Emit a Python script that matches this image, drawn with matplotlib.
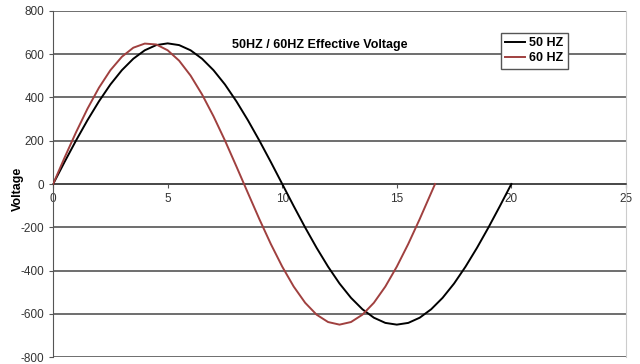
import matplotlib.pyplot as plt

plt.rcParams['font.family'] = ['Liberation Sans', 'DejaVu Sans']
plt.rcParams['axes.unicode_minus'] = False

# time (ms) and voltage, 0.5 ms steps
t50 = [0, 0.5, 1, 1.5, 2, 2.5, 3, 3.5, 4, 4.5, 5, 5.5, 6, 6.5, 7, 7.5, 8, 8.5, 9, 9.5, 10,
       10.5, 11, 11.5, 12, 12.5, 13, 13.5, 14, 14.5, 15, 15.5, 16, 16.5, 17, 17.5, 18, 18.5,
       19, 19.5, 20]
v50 = [0, 102, 201, 295, 382, 460, 526, 579, 618, 642, 650, 642, 618, 579, 526, 460, 382, 295,
       201, 102, 0, -102, -201, -295, -382, -460, -526, -579, -618, -642, -650, -642, -618,
       -579, -526, -460, -382, -295, -201, -102, 0]

t60 = [0, 0.5, 1, 1.5, 2, 2.5, 3, 3.5, 4, 4.5, 5, 5.5, 6, 6.5, 7, 7.5, 8, 8.5, 9, 9.5, 10,
       10.5, 11, 11.5, 12, 12.5, 13, 13.5, 14, 14.5, 15, 15.5, 16, 16.5, 16.67]
v60 = [0, 122, 239, 348, 445, 526, 588, 630, 649, 645, 618, 570, 501, 414, 313, 201, 81, -41,
       -162, -277, -382, -474, -549, -604, -638, -650, -638, -604, -549, -474, -382, -277,
       -162, -41, 0]

fig = plt.figure(figsize=(6.4, 3.64), dpi=100)
ax = fig.add_axes([0.083, 0.019, 0.895, 0.951])

ax.plot(t50, v50, color='black', lw=1.4, label='50 HZ', zorder=3)
ax.plot(t60, v60, color='#a0403f', lw=1.4, label='60 HZ', zorder=3)

ax.set_xlim(0, 25)
ax.set_ylim(-800, 800)
ax.set_xticks([0, 5, 10, 15, 20, 25])
ax.set_yticks(range(-800, 801, 200))
ax.yaxis.grid(True, color='#555555', lw=1.2)
ax.set_axisbelow(True)

ax.spines['top'].set_visible(False)
ax.spines['right'].set_color('#cccccc')
ax.spines['left'].set_color('#555555')
ax.spines['bottom'].set_position(('data', 0))
ax.spines['bottom'].set_color('#444444')
ax.spines['bottom'].set_linewidth(1.2)
ax.tick_params(axis='both', labelsize=8.5, labelcolor='#333333', color='#555555',
               length=3, direction='out')

fig.text(0.028, 0.48, 'Voltage', rotation=90, ha='center', va='center',
         fontsize=9, fontweight='bold')
ax.text(11.65, 643, '50HZ / 60HZ Effective Voltage', ha='center', va='center',
        fontsize=9, fontweight='bold')

leg = ax.legend(loc='upper left', bbox_to_anchor=(0.771, 0.955),
                prop={'weight': 'bold', 'size': 9}, handlelength=1.6, handletextpad=0.3,
                borderpad=0.35, labelspacing=0.25, fancybox=False, framealpha=1,
                edgecolor='#555555')

fig.savefig('out.png', dpi=100)
